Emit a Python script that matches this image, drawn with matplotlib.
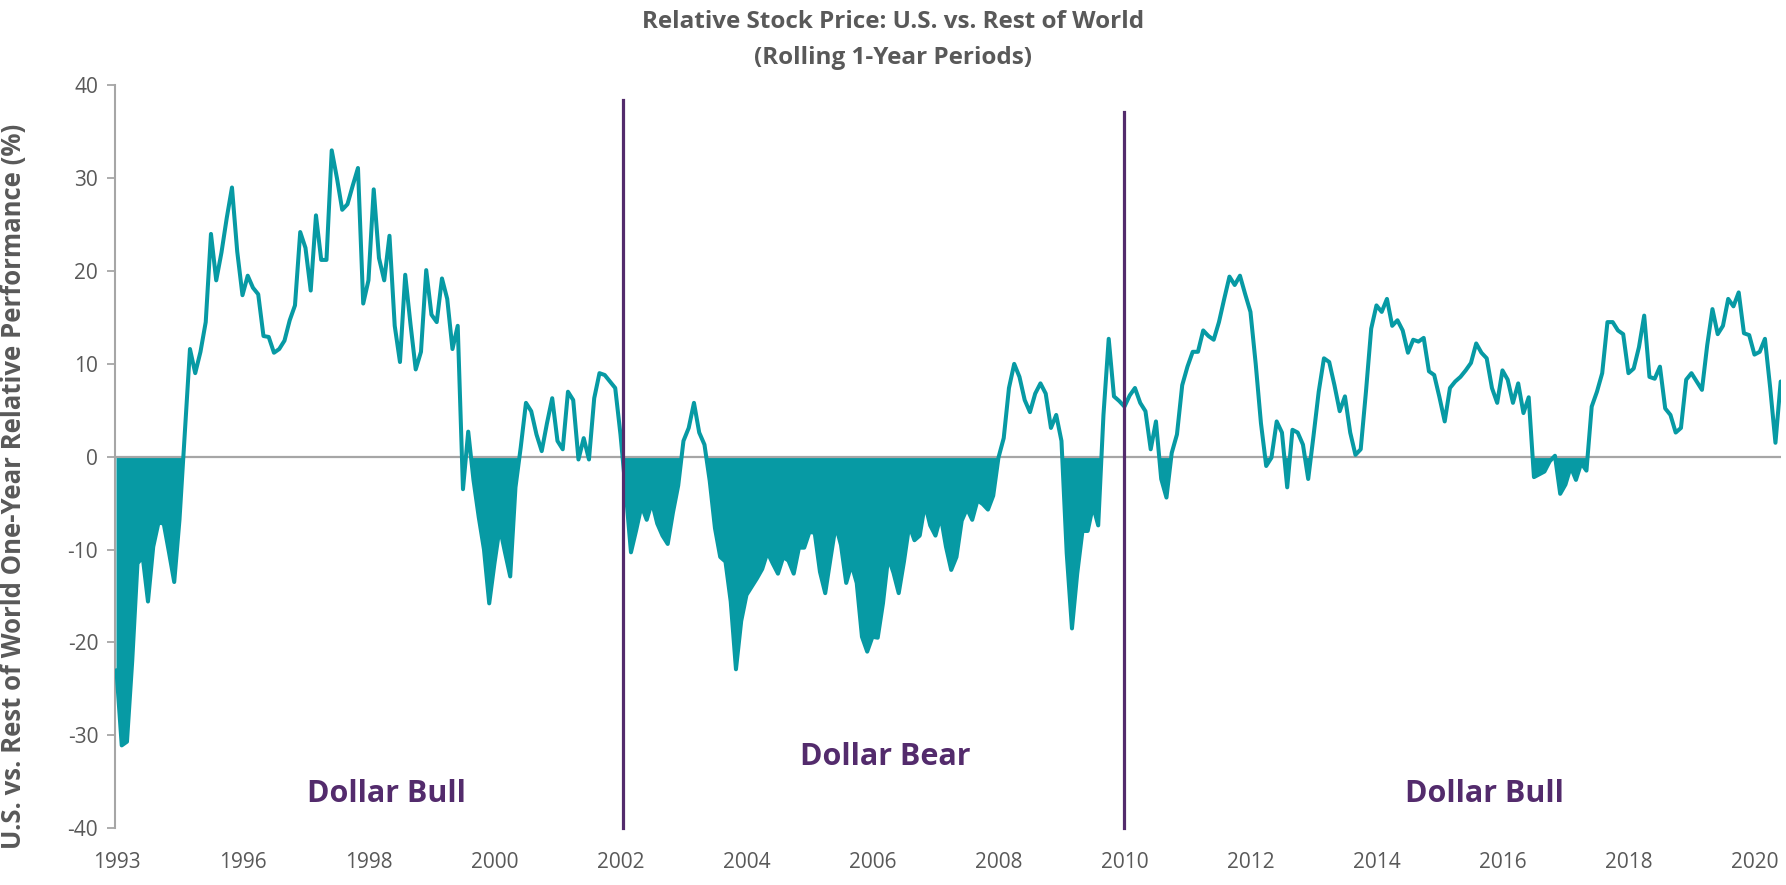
import numpy as np
import matplotlib
matplotlib.use("Agg")
import matplotlib.pyplot as plt

# U.S. minus rest-of-world rolling 1-year return (%), one value per month
rel_perf = [
    -23.0, -31.1, -30.7, -22.0, -11.5, -10.8, -15.6, -9.7, -7.1, -7.2,
    -10.3, -13.5, -6.8, 2.4, 11.6, 9.0, 11.3, 14.5, 24.0, 19.0,
    22.0, 25.7, 29.0, 22.1, 17.4, 19.5, 18.2, 17.5, 13.0, 12.9,
    11.2, 11.6, 12.5, 14.7, 16.3, 24.2, 22.5, 17.9, 26.0, 21.2,
    21.2, 33.0, 30.0, 26.6, 27.2, 29.2, 31.1, 16.5, 19.0, 28.8,
    21.4, 19.0, 23.8, 14.1, 10.2, 19.6, 14.3, 9.4, 11.3, 20.1,
    15.3, 14.5, 19.2, 17.0, 11.6, 14.1, -3.5, 2.7, -2.5, -6.5,
    -10.0, -15.8, -11.5, -7.6, -10.3, -12.9, -3.3, 1.0, 5.8, 4.9,
    2.4, 0.6, 3.6, 6.3, 1.7, 0.8, 7.0, 6.1, -0.3, 2.0,
    -0.3, 6.3, 9.0, 8.8, 8.1, 7.4, 2.4, -3.7, -10.3, -7.9,
    -5.3, -6.8, -4.9, -7.2, -8.5, -9.4, -6.0, -3.1, 1.7, 3.1,
    5.8, 2.6, 1.3, -2.6, -7.7, -10.8, -11.3, -15.6, -22.9, -17.7,
    -14.9, -14.0, -13.1, -12.1, -10.3, -11.5, -12.6, -10.8, -11.2, -12.6,
    -9.8, -9.8, -8.1, -8.2, -12.4, -14.7, -11.0, -7.4, -9.5, -13.6,
    -11.6, -13.6, -19.4, -21.0, -19.4, -19.5, -15.8, -10.8, -12.5, -14.7,
    -11.3, -7.4, -9.0, -8.5, -5.1, -7.4, -8.5, -6.4, -9.7, -12.2,
    -10.8, -6.9, -5.6, -6.8, -4.7, -5.1, -5.7, -4.2, -0.1, 2.0,
    7.4, 10.0, 8.6, 6.1, 4.8, 6.8, 7.9, 6.8, 3.1, 4.5,
    1.7, -10.4, -18.5, -12.6, -8.0, -8.0, -5.3, -7.4, 4.5, 12.7,
    6.5, 6.0, 5.4, 6.6, 7.4, 5.8, 4.9, 0.8, 3.8, -2.4,
    -4.4, 0.4, 2.4, 7.7, 9.7, 11.3, 11.3, 13.6, 13.0, 12.6,
    14.5, 17.0, 19.4, 18.5, 19.5, 17.5, 15.6, 10.0, 3.6, -1.0,
    -0.1, 3.8, 2.6, -3.3, 2.9, 2.6, 1.3, -2.4, 2.2, 7.0,
    10.6, 10.2, 7.7, 4.9, 6.5, 2.6, 0.2, 0.8, 7.0, 13.8,
    16.3, 15.6, 17.0, 14.1, 14.7, 13.6, 11.2, 12.6, 12.4, 12.8,
    9.2, 8.8, 6.4, 3.8, 7.4, 8.1, 8.6, 9.3, 10.1, 12.2,
    11.2, 10.6, 7.4, 5.8, 9.3, 8.3, 5.8, 7.9, 4.7, 6.4,
    -2.2, -1.9, -1.6, -0.5, 0.1, -4.0, -3.0, -1.1, -2.5, -0.7,
    -1.5, 5.4, 7.0, 9.0, 14.5, 14.5, 13.6, 13.2, 9.0, 9.5,
    11.8, 15.2, 8.6, 8.4, 9.7, 5.2, 4.5, 2.6, 3.1, 8.3,
    9.0, 8.1, 7.2, 12.0, 15.9, 13.2, 14.1, 17.0, 16.2, 17.7,
    13.3, 13.1, 11.0, 11.3, 12.7, 7.4, 1.5, 8.1,
]
year_labels = ["1993", "1996", "1998", "2000", "2002", "2004", "2006",
               "2008", "2010", "2012", "2014", "2016", "2018", "2020"]
label_step = 24          # months between axis labels
regime_breaks = [96.5, 192]
regime_names = ["Dollar Bull", "Dollar Bear", "Dollar Bull"]

teal = "#079AA4"
purple = "#532B6C"
grey_txt = "#595959"
grey_ax = "#A6A6A6"

plt.rcParams["font.family"] = ["Open Sans", "DejaVu Sans"]
plt.rcParams["axes.unicode_minus"] = False

y = np.array(rel_perf)
x = np.arange(len(y))

fig = plt.figure(figsize=(17.86, 8.85), dpi=100)
ax = fig.add_axes([114.9 / 1786, 1 - 828 / 885, (1780.7 - 114.9) / 1786, (828 - 85.4) / 885])

ax.fill_between(x, y, 0, where=y < 0, interpolate=True, color=teal, lw=0)
ax.plot(x, y, color=teal, lw=2.9, solid_joinstyle="round", solid_capstyle="round", zorder=3)
ax.axhline(0, color=grey_ax, lw=1.6, zorder=2)

# regime dividers
ax.plot([regime_breaks[0]] * 2, [-40, 38.4], color=purple, lw=2.3, zorder=4, clip_on=False)
ax.plot([regime_breaks[1]] * 2, [-40, 37.1], color=purple, lw=2.3, zorder=4, clip_on=False)

ax.set_xlim(-0.3, len(y) - 1)
ax.set_ylim(-40, 40)
ax.set_yticks(range(-40, 41, 10))
ticks = np.arange(0, len(y), label_step)
ax.set_xticks(ticks)
ax.set_xticklabels(year_labels, fontsize=15, color=grey_txt)
ax.tick_params(axis="x", length=0, pad=17)
ax.tick_params(axis="y", length=6, width=1.3, color=grey_ax, labelcolor=grey_txt,
               labelsize=15, pad=6)

for s in ["top", "right", "bottom"]:
    ax.spines[s].set_visible(False)
ax.spines["left"].set_color(grey_ax)
ax.spines["left"].set_linewidth(1.5)

ax.set_ylabel("U.S. vs. Rest of World One-Year Relative Performance (%)",
              fontsize=18.5, fontweight="bold", color=grey_txt)
ax.yaxis.set_label_coords(-0.0525, 0.46)

txt_kw = dict(fontsize=22, fontweight="bold", color=purple, ha="center", va="center")
ax.text(51.5, -36.3, regime_names[0], **txt_kw)
ax.text(146.4, -32.4, regime_names[1], **txt_kw)
ax.text(260.5, -36.3, regime_names[2], **txt_kw)

fig.text(0.5, 1 - 40 / 885, "Relative Stock Price: U.S. vs. Rest of World\n(Rolling 1-Year Periods)",
         fontsize=17.5, fontweight="bold", color=grey_txt,
         ha="center", va="center", linespacing=1.65)

fig.savefig("out.png", dpi=100)
